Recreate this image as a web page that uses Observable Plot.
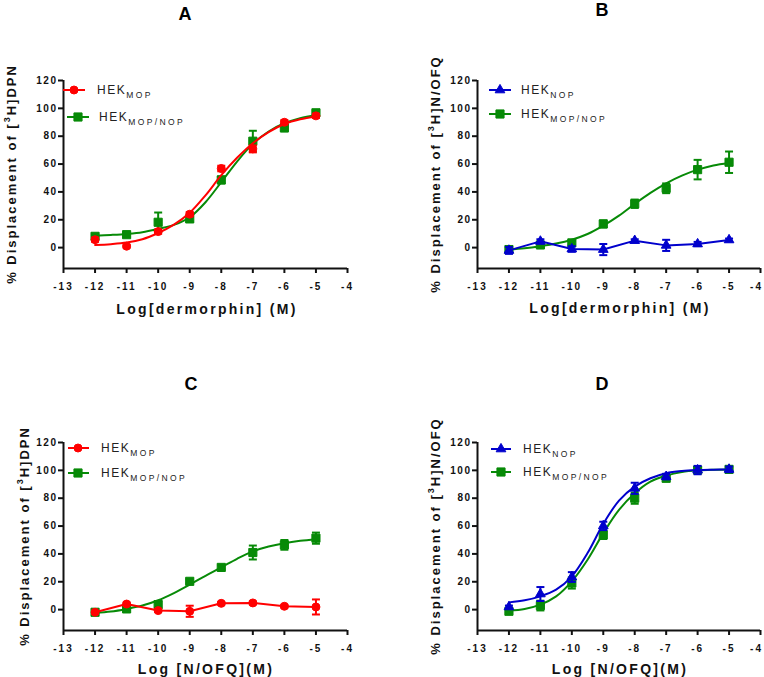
<!DOCTYPE html>
<html>
<head>
<meta charset="utf-8">
<script src="https://cdn.jsdelivr.net/npm/d3@7"></script>
<script src="https://cdn.jsdelivr.net/npm/@observablehq/plot@0.6"></script>
<style>
html, body { margin: 0; padding: 0; background: #fff; }
#wrap { position: relative; width: 764px; height: 677px; overflow: hidden; font-family: "Liberation Sans", Arial, sans-serif; }
#wrap svg.panel { position: absolute; max-width: none; overflow: visible; background: transparent; }
#wrap svg text { font-family: "Liberation Sans", Arial, sans-serif; }
svg.panel [aria-label="x-axis tick label"] { font-size: 10px; font-weight: bold; letter-spacing: 2px; fill: #111; }
svg.panel [aria-label="y-axis tick label"] { font-size: 10px; font-weight: bold; letter-spacing: 1.5px; fill: #111; }
</style>
</head>
<body>
<div id="wrap"></div>
<script>
// ---------- shared axes ----------
const xDomain = [-13, -4];
const yDomain = [-15, 120];
const xTicks = [-13, -12, -11, -10, -9, -8, -7, -6, -5, -4];
const xTickLabels = ["-13", "-12", "-11", "-10", "-9", "-8", "-7", "-6", "-5", "-4"];
const yTicks = [0, 20, 40, 60, 80, 100, 120];
const yTickLabels = ["0", "20", "40", "60", "80", "100", "120"];

// log concentrations of measured points and of the fitted-curve readings
const logConc = [-12, -11, -10, -9, -8, -7, -6, -5];
const fitX = [-12, -11.5, -11, -10.5, -10, -9.5, -9, -8.5, -8, -7.5, -7, -6.5, -6, -5.5, -5];

// ---------- text ----------
const panelLetters = ["A", "B", "C", "D"];
const xTitles = ["Log[dermorphin] (M)", "Log[dermorphin] (M)", "Log [N/OFQ](M)", "Log [N/OFQ](M)"];
const yTitleTracers = ["H]DPN", "H]N/OFQ", "H]DPN", "H]N/OFQ"];
const legendBase = "HEK";
const subMOP = "MOP", subNOP = "NOP", subMOPNOP = "MOP/NOP";

// ---------- Panel A: dermorphin vs [3H]DPN ----------
const aMopMean = [5.7, 1.0, 11.5, 24.0, 56.8, 70.9, 90.0, 94.6];
const aMopSem = [1.5, 1.0, 1.5, 1.5, 2.0, 2.5, 1.5, 1.5];
const aMopFit = [1.9, 2.5, 3.6, 6.0, 10.5, 16.5, 25.0, 37.5, 52.0, 64.5, 75.0, 83.0, 88.8, 92.2, 94.2];
const aMopNopMean = [8.1, 9.3, 18.2, 20.6, 48.6, 76.4, 86.0, 96.8];
const aMopNopSem = [1.0, 1.5, 7.0, 2.0, 2.5, 7.5, 2.5, 1.5];
const aMopNopFit = [8.6, 9.1, 9.8, 11.0, 13.4, 16.3, 21.8, 32.6, 47.0, 61.8, 74.5, 83.4, 89.3, 93.0, 95.3];

// ---------- Panel B: dermorphin vs [3H]N/OFQ ----------
const bNopMean = [-2.0, 4.5, -1.0, -1.4, 5.0, 1.6, 2.6, 5.5];
const bNopSem = [2.5, 1.5, 2.0, 4.0, 1.0, 4.0, 1.5, 1.0];
const bMopNopMean = [-1.4, 1.9, 3.4, 17.0, 31.5, 42.6, 56.0, 61.3];
const bMopNopSem = [1.5, 1.5, 1.5, 2.5, 3.0, 3.5, 7.0, 7.7];
const bMopNopFit = [-1.4, -0.5, 1.0, 2.9, 5.7, 9.8, 15.8, 23.0, 31.4, 39.3, 46.2, 51.7, 56.0, 59.0, 60.8];

// ---------- Panel C: N/OFQ vs [3H]DPN ----------
const cMopMean = [-1.9, 4.0, -0.7, -1.2, 4.5, 4.8, 2.4, 1.9];
const cMopSem = [1.0, 1.0, 1.0, 4.0, 1.0, 1.0, 1.0, 5.4];
const cMopNopMean = [-1.9, 0.5, 3.6, 20.3, 30.3, 41.0, 46.5, 51.3];
const cMopNopSem = [1.0, 1.0, 2.5, 1.5, 1.5, 5.0, 3.5, 4.0];
const cMopNopFit = [-2.4, -1.4, 0.5, 2.9, 6.7, 11.9, 17.9, 24.3, 30.3, 36.5, 41.8, 45.3, 47.7, 49.4, 50.6];

// ---------- Panel D: N/OFQ vs [3H]N/OFQ ----------
const dNopMean = [1.9, 11.2, 23.4, 60.1, 87.1, 95.5, 100.2, 100.7];
const dNopSem = [1.0, 5.0, 3.5, 3.0, 4.0, 2.0, 3.0, 2.0];
const dNopFit = [5.2, 6.7, 9.5, 14.3, 23.9, 40.6, 61.6, 78.3, 88.3, 94.3, 97.9, 99.5, 100.2, 100.5, 100.7];
const dMopNopMean = [-1.2, 2.9, 19.1, 53.7, 80.0, 94.3, 100.2, 100.7];
const dMopNopSem = [1.0, 3.5, 4.0, 3.0, 4.0, 2.0, 2.0, 2.0];
const dMopNopFit = [-0.7, 0.5, 3.6, 9.5, 20.3, 35.8, 54.9, 71.6, 83.5, 91.9, 96.2, 98.8, 100.0, 100.5, 100.7];

// ---------- colours ----------
const colMOP = "#ff0000";
const colNOP = "#0000cc";
const colMOPNOP = "#078a07";

// ---------- helpers ----------
const rows = (means, sems) => logConc.map((x, i) => ({x, y: means[i], sem: sems[i]}));
const fitRows = (vals) => fitX.map((x, i) => ({x, y: vals[i]}));
const capSymbol = {
  draw(context, size) {
    const w = Math.sqrt(size / Math.PI);
    context.moveTo(-w, 0);
    context.lineTo(w, 0);
  }
};
const SYM = {
  circle: {plot: "circle", d3: d3.symbolCircle, r: 4},
  square: {plot: "square", d3: d3.symbolSquare, r: 4.6},
  triangle: {plot: "triangle", d3: d3.symbolTriangle, r: 3.6}
};

function seriesMarks(s) {
  const data = rows(s.mean, s.sem);
  const err = data.filter(d => d.sem > 0);
  const sym = SYM[s.symbol];
  const marks = [
    Plot.ruleX(err, {x: "x", y1: d => d.y - d.sem, y2: d => d.y + d.sem, stroke: s.color, strokeWidth: 2}),
    Plot.dot(err, {x: "x", y: d => d.y + d.sem, symbol: capSymbol, r: 4, stroke: s.color, strokeWidth: 2, fill: "none"}),
    Plot.dot(err, {x: "x", y: d => d.y - d.sem, symbol: capSymbol, r: 4, stroke: s.color, strokeWidth: 2, fill: "none"})
  ];
  if (s.fit) {
    marks.push(Plot.line(fitRows(s.fit), {x: "x", y: "y", stroke: s.color, strokeWidth: 2, curve: "catmull-rom"}));
  } else {
    marks.push(Plot.line(data, {x: "x", y: "y", stroke: s.color, strokeWidth: 2}));
  }
  marks.push(Plot.dot(data, {x: "x", y: "y", symbol: sym.plot, r: sym.r, fill: s.color, stroke: s.color, strokeWidth: 1}));
  return marks;
}

const panels = [
  {left: 0, top: 0, width: 380, height: 320, ml: 63, mr: 33, mt: 80, mb: 52,
   letter: [185, 13], yTitle: [11, 175], xTitle: [206, 309],
   legend: [{x1: 63, x2: 85, y: 90, mx: 74, tx: 97}, {x1: 67, x2: 89, y: 117, mx: 78, tx: 99}],
   series: [
     {name: subMOP, color: colMOP, symbol: "circle", mean: aMopMean, sem: aMopSem, fit: aMopFit},
     {name: subMOPNOP, color: colMOPNOP, symbol: "square", mean: aMopNopMean, sem: aMopNopSem, fit: aMopNopFit}
   ]},
  {left: 380, top: 0, width: 384, height: 320, ml: 97, mr: 4, mt: 80, mb: 52,
   letter: [602, 9], yTitle: [435, 175], xTitle: [619, 308],
   legend: [{x1: 489, x2: 511, y: 90, mx: 500, tx: 521}, {x1: 489, x2: 511, y: 114, mx: 500, tx: 521}],
   series: [
     {name: subNOP, color: colNOP, symbol: "triangle", mean: bNopMean, sem: bNopSem, fit: null},
     {name: subMOPNOP, color: colMOPNOP, symbol: "square", mean: bMopNopMean, sem: bMopNopSem, fit: bMopNopFit}
   ]},
  {left: 0, top: 320, width: 380, height: 357, ml: 63, mr: 33, mt: 122, mb: 47,
   letter: [191, 383], yTitle: [24, 537], xTitle: [205, 669],
   legend: [{x1: 68, x2: 89, y: 448, mx: 78, tx: 101}, {x1: 68, x2: 89, y: 473, mx: 78, tx: 101}],
   series: [
     {name: subMOP, color: colMOP, symbol: "circle", mean: cMopMean, sem: cMopSem, fit: null},
     {name: subMOPNOP, color: colMOPNOP, symbol: "square", mean: cMopNopMean, sem: cMopNopSem, fit: cMopNopFit}
   ]},
  {left: 380, top: 320, width: 384, height: 357, ml: 97, mr: 4, mt: 122, mb: 47,
   letter: [602, 383], yTitle: [435, 537], xTitle: [619, 669],
   legend: [{x1: 491, x2: 511, y: 449, mx: 501, tx: 523}, {x1: 491, x2: 511, y: 472, mx: 501, tx: 523}],
   series: [
     {name: subNOP, color: colNOP, symbol: "triangle", mean: dNopMean, sem: dNopSem, fit: dNopFit},
     {name: subMOPNOP, color: colMOPNOP, symbol: "square", mean: dMopNopMean, sem: dMopNopSem, fit: dMopNopFit}
   ]}
];

const wrap = document.getElementById("wrap");

panels.forEach((p) => {
  const seriesLayers = p.series.slice().reverse().flatMap(seriesMarks);
  const chart = Plot.plot({
    width: p.width,
    height: p.height,
    marginLeft: p.ml,
    marginRight: p.mr,
    marginTop: p.mt,
    marginBottom: p.mb,
    style: {background: "transparent", overflow: "visible"},
    x: {type: "linear", domain: xDomain},
    y: {type: "linear", domain: yDomain},
    marks: [
      Plot.axisX({ticks: xTicks, tickFormat: d => xTickLabels[xTicks.indexOf(d)], tickSize: 5, tickPadding: 9, strokeWidth: 2, stroke: "#111", label: null}),
      Plot.axisY({ticks: yTicks, tickFormat: d => yTickLabels[yTicks.indexOf(d)], tickSize: 5, tickPadding: 1, strokeWidth: 2, stroke: "#111", label: null}),
      Plot.ruleX([xDomain[0]], {stroke: "#111", strokeWidth: 2}),
      Plot.ruleY([yDomain[0]], {stroke: "#111", strokeWidth: 2}),
      ...seriesLayers
    ]
  });
  chart.classList.add("panel");
  chart.style.left = p.left + "px";
  chart.style.top = p.top + "px";
  wrap.appendChild(chart);
  // keep the last x tick label (at the right page edge) inside the window, as in the reference
  if (p.left + p.width >= 764) {
    const labels = chart.querySelectorAll('[aria-label="x-axis tick label"] text');
    if (labels.length) labels[labels.length - 1].setAttribute("dx", "-4");
  }
});

// ---------- overlay: panel letters, axis titles, legends ----------
const ov = d3.select(wrap).append("svg")
  .attr("width", 764).attr("height", 677)
  .style("position", "absolute").style("left", "0px").style("top", "0px")
  .style("pointer-events", "none");

panels.forEach((p, i) => {
  ov.append("text")
    .attr("x", p.letter[0]).attr("y", p.letter[1] + 6.5)
    .attr("text-anchor", "middle")
    .attr("font-size", 18).attr("font-weight", "bold").attr("fill", "#000")
    .text(panelLetters[i]);

  ov.append("text")
    .attr("x", p.xTitle[0] + 1).attr("y", p.xTitle[1] + 5)
    .attr("text-anchor", "middle")
    .attr("font-size", 14).attr("font-weight", "bold").attr("fill", "#111")
    .style("letter-spacing", "2.3px")
    .text(xTitles[i]);

  const yt = ov.append("text")
    .attr("transform", `translate(${p.yTitle[0]},${p.yTitle[1]}) rotate(-90)`)
    .attr("x", 1).attr("y", 4.6)
    .attr("text-anchor", "middle")
    .attr("font-size", 13).attr("font-weight", "bold").attr("fill", "#111")
    .style("letter-spacing", "2px");
  yt.append("tspan").text("% Displacement of [");
  yt.append("tspan").attr("font-size", 9).attr("dy", -6).text("3");
  yt.append("tspan").attr("dy", 6).text(yTitleTracers[i]);

  p.series.forEach((s, k) => {
    const L = p.legend[k];
    const sym = SYM[s.symbol];
    ov.append("line")
      .attr("x1", L.x1).attr("x2", L.x2).attr("y1", L.y).attr("y2", L.y)
      .attr("stroke", s.color).attr("stroke-width", 2);
    ov.append("path")
      .attr("transform", `translate(${L.mx},${L.y})`)
      .attr("d", d3.symbol(sym.d3, Math.PI * sym.r * sym.r)())
      .attr("fill", s.color).attr("stroke", s.color).attr("stroke-width", 1);
    const t = ov.append("text")
      .attr("x", L.tx).attr("y", L.y + 4.3)
      .attr("font-size", 12).attr("fill", "#222")
      .style("letter-spacing", "1.5px");
    t.append("tspan").text(legendBase);
    t.append("tspan").attr("font-size", 8.5).attr("dy", 3.4).style("letter-spacing", "2.4px").text(s.name);
  });
});
</script>
</body>
</html>
